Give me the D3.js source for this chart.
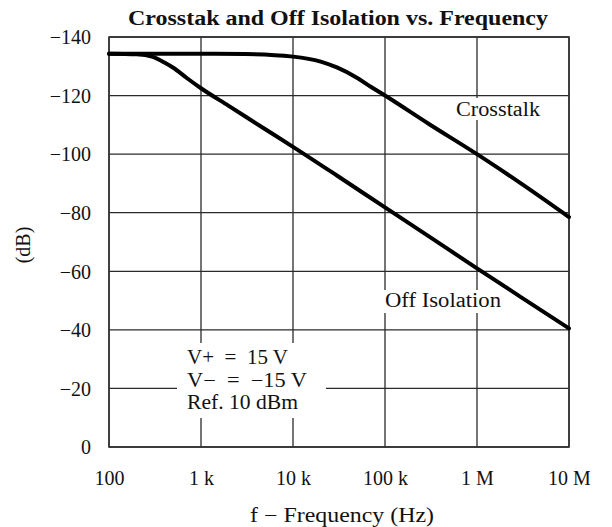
<!DOCTYPE html>
<html><head><meta charset="utf-8">
<script src="https://cdn.jsdelivr.net/npm/d3@7"></script>
<style>body{margin:0;background:#fff}svg{display:block}text{font-family:"Liberation Serif","Times New Roman",serif;fill:#111}</style>
</head><body>
<script>
const freqTicks = [1e2, 1e3, 1e4, 1e5, 1e6, 1e7];
const freqTickLabels = ["100", "1 k", "10 k", "100 k", "1 M", "10 M"];
const dbTicks = [-140, -120, -100, -80, -60, -40, -20, 0];
const dbTickLabels = ["\u2212140", "\u2212120", "\u2212100", "\u221280", "\u221260", "\u221240", "\u221220", "0"];

const crosstalkFreq = [100, 1000, 3000, 10000, 20000, 30000, 50000, 70000, 100000, 300000, 1000000, 3000000, 10000000];
const crosstalkDb   = [-134.3, -134.3, -134.2, -133.3, -131.6, -129.6, -126, -123, -120, -110.3, -100, -90, -78.5];
const offIsoFreq = [100, 200, 300, 400, 500, 700, 1000, 2000, 5000, 10000, 30000, 100000, 300000, 1000000, 3000000, 10000000];
const offIsoDb   = [-134.3, -134.1, -133.2, -131.3, -129.5, -126, -122.5, -116.5, -108.5, -102.5, -92.7, -81.8, -71.9, -61, -51.2, -40.5];

const W = 612, H = 527;
const m = {l: 109, r: 569, t: 37, b: 447};
const svg = d3.select("body").append("svg").attr("width", W).attr("height", H);

const x = d3.scaleLog().domain([1e2, 1e7]).range([m.l, m.r]);
const y = d3.scaleLinear().domain([0, -140]).range([m.b, m.t]);

// grid
const g = svg.append("g");
g.selectAll("line.v").data(freqTicks).join("line")
  .attr("x1", d => x(d)).attr("x2", d => x(d)).attr("y1", m.t).attr("y2", m.b)
  .attr("stroke", "#2a2a2a").attr("stroke-width", 1.3);
g.selectAll("line.h").data(dbTicks).join("line")
  .attr("x1", m.l).attr("x2", m.r).attr("y1", d => y(d)).attr("y2", d => y(d))
  .attr("stroke", "#2a2a2a").attr("stroke-width", 1.3);
svg.append("rect").attr("x", m.l).attr("y", m.t).attr("width", m.r - m.l).attr("height", m.b - m.t)
  .attr("fill", "none").attr("stroke", "#333").attr("stroke-width", 1.6);

// white label backgrounds
svg.append("rect").attr("x", 177).attr("y", 343).attr("width", 149).attr("height", 75).attr("fill", "#fff");
svg.append("rect").attr("x", 453).attr("y", 98).attr("width", 90).attr("height", 22).attr("fill", "#fff");
svg.append("rect").attr("x", 382).attr("y", 290).attr("width", 122).attr("height", 23).attr("fill", "#fff");

// curves
const line = d3.line().x(d => x(d[0])).y(d => y(d[1])).curve(d3.curveMonotoneX);
svg.append("path").datum(d3.zip(crosstalkFreq, crosstalkDb)).attr("d", line)
  .attr("fill", "none").attr("stroke", "#000").attr("stroke-width", 4).attr("stroke-linecap", "round");
svg.append("path").datum(d3.zip(offIsoFreq, offIsoDb)).attr("d", line)
  .attr("fill", "none").attr("stroke", "#000").attr("stroke-width", 4).attr("stroke-linecap", "round");

// axes labels
const xAxis = d3.axisBottom(x).tickValues(freqTicks).tickFormat((d, i) => freqTickLabels[i]).tickSize(0).tickPadding(0);
const xa = svg.append("g").attr("transform", `translate(0,${m.b})`).call(xAxis);
xa.select(".domain").remove();
xa.selectAll("text").attr("y", 38).attr("dy", 0).style("font-size", "20px").style("font-family", '"Liberation Serif",serif').attr("fill", "#111");

const yAxis = d3.axisLeft(y).tickValues(dbTicks).tickFormat((d, i) => dbTickLabels[i]).tickSize(0).tickPadding(18);
const ya = svg.append("g").attr("transform", `translate(${m.l},0)`).call(yAxis);
ya.select(".domain").remove();
ya.selectAll("text").attr("dy", "0.34em").style("font-size", "20px").style("font-family", '"Liberation Serif",serif').attr("fill", "#111");

function fitText(sel, len) {
  sel.attr("textLength", len).attr("lengthAdjust", "spacingAndGlyphs");
  return sel;
}

fitText(svg.append("text").attr("x", 338).attr("y", 25).attr("text-anchor", "middle")
  .style("font-size", "20px").style("font-weight", "bold").text("Crosstak and Off Isolation vs. Frequency"), 420);
fitText(svg.append("text").attr("x", 342).attr("y", 522).attr("text-anchor", "middle")
  .style("font-size", "20px").text("f \u2212 Frequency (Hz)"), 184);
svg.append("text").attr("transform", "translate(30,245) rotate(-90)").attr("text-anchor", "middle")
  .style("font-size", "20px").text("(dB)");

fitText(svg.append("text").attr("x", 456).attr("y", 116).style("font-size", "20px").text("Crosstalk"), 84);
fitText(svg.append("text").attr("x", 385).attr("y", 307).style("font-size", "20px").text("Off Isolation"), 116);

const notes = ["V+ = 15 V", "V\u2212 = \u221215 V", "Ref. 10 dBm"];
const noteWidths = [101, 120, 111];
svg.append("g").selectAll("text").data(notes).join("text")
  .attr("x", 187).attr("y", (d, i) => 364 + i * 22.5)
  .attr("textLength", (d, i) => noteWidths[i]).attr("lengthAdjust", "spacingAndGlyphs")
  .style("font-size", "20px").style("white-space", "pre").text(d => d.replace(/ = /g, "  =  "));
</script>
</body></html>
